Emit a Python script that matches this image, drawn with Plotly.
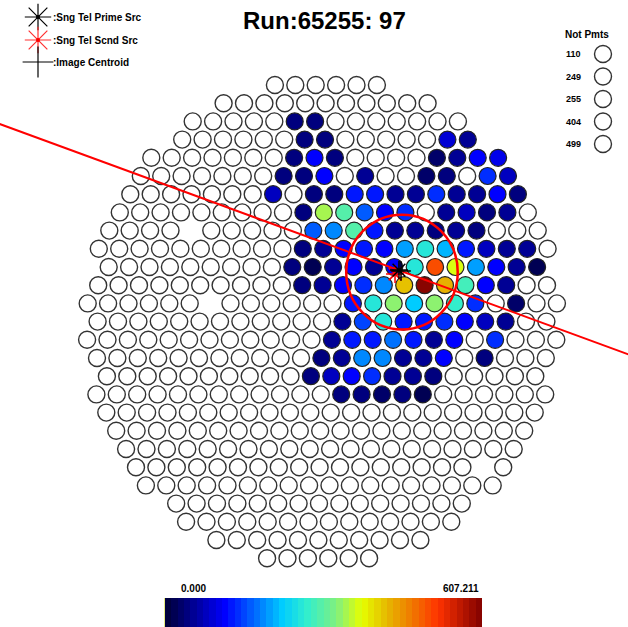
import numpy as np
import plotly.graph_objects as go
from plotly.colors import sample_colorscale

# ---------------- data ----------------
title_text = "Run:65255: 97"
legend_labels = [":Sng Tel Prime Src", ":Sng Tel Scnd Src", ":Image Centroid"]
not_pmts = [110, 249, 255, 404, 499]
cmin, cmax = 0.0, 607.211

# hit pixels: camera row (top=-13), half-spacing column index, charge
hit_row = ([-11] * 2 + [-10] * 4 + [-9] * 7 + [-8] * 8 + [-7] * 12 + [-6] * 10 + [-5] * 9
           + [-4] * 12 + [-3] * 13 + [-2] * 11 + [-1] * 8 + [0] * 9 + [1] * 8 + [2] * 8
           + [3] * 7 + [4] * 5)
hit_col = [-3, -1,
           -2, 0, 12, 14,
           -3, -1, 1, 11, 13, 15, 17,
           -4, -2, 0, 4, 10, 12, 16, 18,
           -5, -1, 1, 3, 5, 7, 9, 11, 13, 15, 17, 19,
           -2, 0, 2, 4, 6, 8, 12, 14, 16, 18,
           -1, 1, 3, 5, 7, 9, 11, 13, 15,
           -2, 0, 2, 4, 6, 8, 10, 12, 14, 16, 18, 20,
           -3, -1, 1, 3, 5, 7, 9, 11, 13, 15, 17, 19, 21,
           -2, 0, 2, 4, 6, 8, 10, 12, 14, 16, 18,
           3, 5, 7, 9, 11, 13, 15, 19,
           2, 4, 6, 8, 10, 12, 14, 16, 18,
           1, 3, 5, 7, 9, 11, 13, 17,
           0, 2, 4, 6, 8, 10, 12, 16,
           -1, 1, 3, 5, 7, 9, 11,
           2, 4, 6, 8, 10]
hit_val = [43, 45,
           42, 45, 95, 50,
           45, 115, 48, 30, 60, 120, 105,
           42, 45, 115, 50, 35, 48, 145, 80,
           85, 45, 45, 125, 125, 58, 52, 140, 58, 55, 118, 42,
           45, 345, 300, 160, 110, 140, 50, 75, 48, 50,
           165, 185, 295, 130, 58, 50, 48, 52, 45,
           45, 50, 118, 125, 110, 195, 262, 218, 130, 75, 60, 52,
           45, 20, 50, 120, 55, 120, 262, 505, 368, 200, 118, 52, 18,
           45, 50, 110, 140, 185, 420, 600, 430, 280, 118, 50,
           130, 262, 330, 230, 330, 268, 140, 25,
           50, 150, 262, 130, 125, 140, 120, 80, 58,
           50, 125, 130, 180, 125, 60, 120, 145,
           48, 50, 185, 185, 50, 55, 115, 42,
           45, 80, 120, 140, 55, 50, 48,
           45, 45, 25, 45, 22]

# pixels not drawn
missing_row = [-5, -1, 8]
missing_col = [-13, -11, 16]

# source / centroid / fitted circle (camera degrees)
prime_src = (0.566, 0.368)
scnd_src = (0.537, 0.340)
centroid = (0.581, 0.361)
axis_angle_deg = -19.6
circle_center = (0.588, 0.354)
circle_radius = 0.41

# ---------------- geometry ----------------
SPACING = 0.15      # deg between neighbouring pixels in a row
ROW_H = 0.13        # deg between rows
SKEW = 0.017
N_RINGS = 13
R_CAM = 11.73       # camera radius in pixel spacings

SX, SY = 136.0, 140.0   # px per degree
CX, CY = 322.0, 321.6   # camera centre (px)
W, H = 628, 627


def pix_xy(r, u):
    y = -r * ROW_H
    x = u * SPACING / 2 + SKEW * y
    return x, y


hits = {(r, u): v for r, u, v in zip(hit_row, hit_col, hit_val)}
missing = set(zip(missing_row, missing_col))

wx, wy = [], []
for r in range(-N_RINGS, N_RINGS + 1):
    for u in range(-2 * N_RINGS - 2, 2 * N_RINGS + 3):
        if (u - r) % 2:
            continue
        xs, ys = u / 2, r * np.sqrt(3) / 2
        if xs * xs + ys * ys > R_CAM ** 2:
            continue
        if (r, u) in hits or (r, u) in missing:
            continue
        x, y = pix_xy(r, u)
        wx.append(x)
        wy.append(y)

hx, hy = zip(*[pix_xy(r, u) for r, u in zip(hit_row, hit_col)])

base_scale = [[0.0, "#000033"], [0.19, "#0000ff"], [0.37, "#00ccff"], [0.45, "#33eecc"],
              [0.54, "#80f080"], [0.62, "#e6ff00"], [0.70, "#e6b800"], [0.78, "#f07800"],
              [0.86, "#ff3300"], [1.0, "#800000"]]
N_BANDS = 50
band_cols = sample_colorscale(base_scale, [(i + 0.5) / N_BANDS for i in range(N_BANDS)])
colorscale = []
for i, c in enumerate(band_cols):
    colorscale.append([i / N_BANDS, c])
    colorscale.append([(i + 1) / N_BANDS, c])

fig = go.Figure()
fig.add_trace(go.Scatter(x=wx, y=wy, mode="markers", hoverinfo="skip",
                         marker=dict(size=17, color="white", line=dict(color="#333333", width=1.4))))
fig.add_trace(go.Scatter(x=list(hx), y=list(hy), mode="markers",
                         marker=dict(size=17, color=hit_val, colorscale=colorscale, cmin=cmin, cmax=cmax,
                                     line=dict(color="#222222", width=1.2),
                                     colorbar=dict(orientation="h", x=(165 + 482) / 2 / W, xanchor="center",
                                                   len=317 / W, lenmode="fraction", thickness=29,
                                                   y=0, yanchor="bottom", xpad=0, ypad=0,
                                                   outlinewidth=0, showticklabels=False, ticks=""))))

# image axis line
ang = np.deg2rad(axis_angle_deg)
t = np.array([-4.0, 4.0])
fig.add_trace(go.Scatter(x=centroid[0] + t * np.cos(ang), y=centroid[1] + t * np.sin(ang),
                         mode="lines", line=dict(color="#ff0000", width=2), hoverinfo="skip"))

# source markers
fig.add_trace(go.Scatter(x=[scnd_src[0]], y=[scnd_src[1]], mode="markers",
                         marker=dict(symbol="asterisk-open", size=15, color="#ff0000",
                                     line=dict(color="#ff0000", width=1.5))))
fig.add_trace(go.Scatter(x=[prime_src[0]], y=[prime_src[1]], mode="markers",
                         marker=dict(symbol="asterisk-open", size=15, color="#000000",
                                     line=dict(color="#000000", width=1.5))))
fig.add_trace(go.Scatter(x=[centroid[0]], y=[centroid[1]], mode="markers",
                         marker=dict(symbol="cross-thin-open", size=14, color="#000000",
                                     line=dict(color="#000000", width=1.5))))

# legend glyphs (pixel overlay axes)
fig.add_trace(go.Scatter(x=[38, 38, 38], y=[17, 40, 62], mode="markers", xaxis="x2", yaxis="y2",
                         marker=dict(symbol=["asterisk-open", "asterisk-open", "cross-thin-open"], size=22,
                                     color=["#000000", "#ff3030", "#000000"],
                                     line=dict(color=["#000000", "#ff3030", "#000000"], width=1.2))))
fig.add_trace(go.Scatter(x=[38, 38], y=[17, 40], mode="markers", xaxis="x2", yaxis="y2",
                         marker=dict(symbol="circle", size=4, color=["#000000", "#ff0000"])))
leg_y = [54, 76.5, 99, 121.5, 144]
fig.add_trace(go.Scatter(x=[603] * len(not_pmts), y=leg_y, mode="markers", xaxis="x2", yaxis="y2",
                         marker=dict(size=17, color="white", line=dict(color="#333333", width=1.4))))

annotations = [dict(x=324, y=20, xref="x2", yref="y2", text="<b>%s</b>" % title_text, showarrow=False,
                    font=dict(size=24, color="#000000"))]
for lab, yy in zip(legend_labels, [17, 40, 62]):
    annotations.append(dict(x=51, y=yy, xref="x2", yref="y2", text="<b>%s</b>" % lab, showarrow=False,
                            xanchor="left", font=dict(size=10, color="#000000")))
annotations.append(dict(x=587, y=34, xref="x2", yref="y2", text="<b>Not Pmts</b>", showarrow=False,
                        font=dict(size=10, color="#000000")))
for n, yy in zip(not_pmts, leg_y):
    annotations.append(dict(x=564, y=yy, xref="x2", yref="y2", text="<b>%d</b>" % n, showarrow=False,
                            xanchor="left", font=dict(size=9, color="#000000")))
annotations.append(dict(x=179, y=588, xref="x2", yref="y2", text="<b>%.3f</b>" % cmin, showarrow=False,
                        xanchor="left", font=dict(size=10, color="#000000")))
annotations.append(dict(x=481, y=588, xref="x2", yref="y2", text="<b>%.3f</b>" % cmax, showarrow=False,
                        xanchor="right", font=dict(size=10, color="#000000")))

shapes = [dict(type="circle", xref="x", yref="y",
               x0=circle_center[0] - circle_radius, x1=circle_center[0] + circle_radius,
               y0=circle_center[1] - circle_radius, y1=circle_center[1] + circle_radius,
               line=dict(color="#ff0000", width=2.5), layer="above"),
          dict(type="rect", xref="x2", yref="y2", x0=164.5, x1=166.5, y0=598, y1=627,
               fillcolor="#c8d400", line=dict(width=0)),
          dict(type="rect", xref="x2", yref="y2", x0=166.5, x1=168.5, y0=598, y1=627,
               fillcolor="#20b8e8", line=dict(width=0))]

fig.update_layout(
    width=W, height=H, margin=dict(l=0, r=0, t=0, b=0),
    paper_bgcolor="white", plot_bgcolor="white", showlegend=False,
    font=dict(family="Liberation Sans, Arial, sans-serif"),
    xaxis=dict(range=[(0 - CX) / SX, (W - CX) / SX], visible=False, fixedrange=True),
    yaxis=dict(range=[(CY - H) / SY, CY / SY], visible=False, fixedrange=True),
    xaxis2=dict(range=[0, W], overlaying="x", visible=False, fixedrange=True),
    yaxis2=dict(range=[H, 0], overlaying="y", anchor="x2", visible=False, fixedrange=True),
    annotations=annotations, shapes=shapes,
)

fig.write_html("out.html", config={"displayModeBar": False},
               post_script="document.body.style.margin='0';document.body.style.overflow='hidden';")
